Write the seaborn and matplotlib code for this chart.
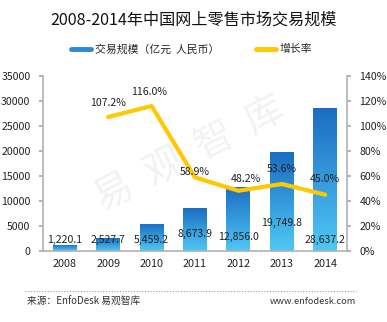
import numpy as np
import pandas as pd
import matplotlib
matplotlib.use("Agg")
import matplotlib.pyplot as plt
import seaborn as sns
from matplotlib.colors import LinearSegmentedColormap
from matplotlib.lines import Line2D

years = ["2008", "2009", "2010", "2011", "2012", "2013", "2014"]
volume = [1220.1, 2527.7, 5459.2, 8673.9, 12856.0, 19749.8, 28637.2]
rate_years = ["2009", "2010", "2011", "2012", "2013", "2014"]
growth = [107.2, 116.0, 58.9, 48.2, 53.6, 45.0]
left_ticks = [0, 5000, 10000, 15000, 20000, 25000, 30000, 35000]
right_ticks = [0, 20, 40, 60, 80, 100, 120, 140]

title = "2008-2014年中国网上零售市场交易规模"
bar_name = "交易规模（亿元  人民币）"
line_name = "增长率"
source_text = "来源：EnfoDesk 易观智库"
site_text = "www.enfodesk.com"

sns.set_theme(style="white")
plt.rcParams["font.family"] = ["Noto Sans CJK SC", "DejaVu Sans"]

fig = plt.figure(figsize=(3.87, 3.22), dpi=100)
ax = fig.add_axes([43 / 387, 1 - 251 / 322, 304 / 387, 175 / 322])

# faint watermark behind everything
fig.text(190 / 387, 1 - 155 / 322, "易  观  智  库", fontsize=28, color="#000000",
         alpha=0.055, rotation=27, ha="center", va="center", zorder=0)

df = pd.DataFrame({"year": years, "volume": volume})
sns.barplot(data=df, x="year", y="volume", ax=ax, width=0.55,
            color="#2a8ad8", saturation=1, zorder=2)
ax.patch.set_alpha(0)

# vertical gradient fill for each bar
cmap = LinearSegmentedColormap.from_list("blue", ["#4fc8f5", "#1b6cc2"])
grad = np.linspace(0, 1, 256).reshape(-1, 1)
for patch in ax.patches:
    x0, y0 = patch.get_x(), patch.get_y()
    w, h = patch.get_width(), patch.get_height()
    im = ax.imshow(grad, cmap=cmap, origin="lower", aspect="auto",
                   extent=[x0, x0 + w, y0, y0 + h], zorder=2.5)
    im.set_clip_path(patch)
ax.set_xlim(-0.5, len(years) - 0.5)
ax.set_ylim(0, 35000)

# value labels for the bars
label_y = [2200, 2200, 2200, 3400, 2800, 5600, 2200]
for i, (v, ly) in enumerate(zip(volume, label_y)):
    ax.text(i, ly, f"{v:,.1f}", ha="center", va="center",
            fontsize=7.6, color="#222222", zorder=6)

ax.set_yticks(left_ticks)
ax.set_yticklabels([str(t) for t in left_ticks], fontsize=7.6, color="#222222")
ax.set_xlabel("")
ax.set_ylabel("")
ax.tick_params(axis="x", labelsize=7.8, colors="#222222", pad=6, length=0)
ax.tick_params(axis="y", length=3, color="#aaaaaa", direction="out", pad=6)
for s in ["top", "right"]:
    ax.spines[s].set_visible(False)
for s in ["left", "bottom"]:
    ax.spines[s].set_color("#b0b0b0")
    ax.spines[s].set_linewidth(1.2)

# growth rate on the secondary axis
ax2 = ax.twinx()
rdf = pd.DataFrame({"pos": [years.index(y) for y in rate_years], "rate": growth})
sns.lineplot(data=rdf, x="pos", y="rate", ax=ax2, color="#ffc800",
             linewidth=3.0, zorder=5)
ax2.set_ylim(0, 140)
ax2.set_xlim(-0.5, len(years) - 0.5)
ax2.set_yticks(right_ticks)
ax2.set_yticklabels([f"{t}%" for t in right_ticks], fontsize=7.6, color="#222222")
ax2.tick_params(axis="y", length=3, color="#aaaaaa", direction="out", pad=6)
ax2.set_ylabel("")
ax2.set_xlabel("")
for s in ["top", "left", "bottom"]:
    ax2.spines[s].set_visible(False)
ax2.spines["right"].set_color("#b0b0b0")
ax2.spines["right"].set_linewidth(1.2)

label_dx = [0.0, -0.05, 0.0, 0.16, 0.0, 0.0]
label_dy = [11.5, 11.5, 4.5, 9.5, 12.0, 13.0]
for p, r, dx, dy in zip(rdf["pos"], growth, label_dx, label_dy):
    ax2.text(p + dx, r + dy, f"{r:.1f}%", ha="center", va="center",
             fontsize=7.6, color="#222222", zorder=7)

fig.text(0.5, 1 - 20 / 322, title, ha="center", va="center", fontsize=11.6,
         color="#111111")

handles = [Line2D([0], [0], color="#2a8ad8", linewidth=3.5),
           Line2D([0], [0], color="#ffc800", linewidth=3.5)]
fig.legend(handles, [bar_name, line_name], loc="center",
           bbox_to_anchor=(0.495, 1 - 49 / 322), ncol=2, frameon=False,
           fontsize=7.8, handlelength=1.9, handletextpad=0.3, columnspacing=3.4)

fig.add_artist(Line2D([25 / 387, 356 / 387], [1 - 291 / 322, 1 - 291 / 322],
                      transform=fig.transFigure, color="#999999",
                      linewidth=0.8, linestyle=(0, (1, 1.5))))
fig.text(27 / 387, 1 - 302 / 322, source_text, ha="left", va="center",
         fontsize=7.0, color="#333333")
fig.text(356 / 387, 1 - 301 / 322, site_text, ha="right", va="center",
         fontsize=6.7, color="#333333")

fig.savefig("out.png", dpi=100)
